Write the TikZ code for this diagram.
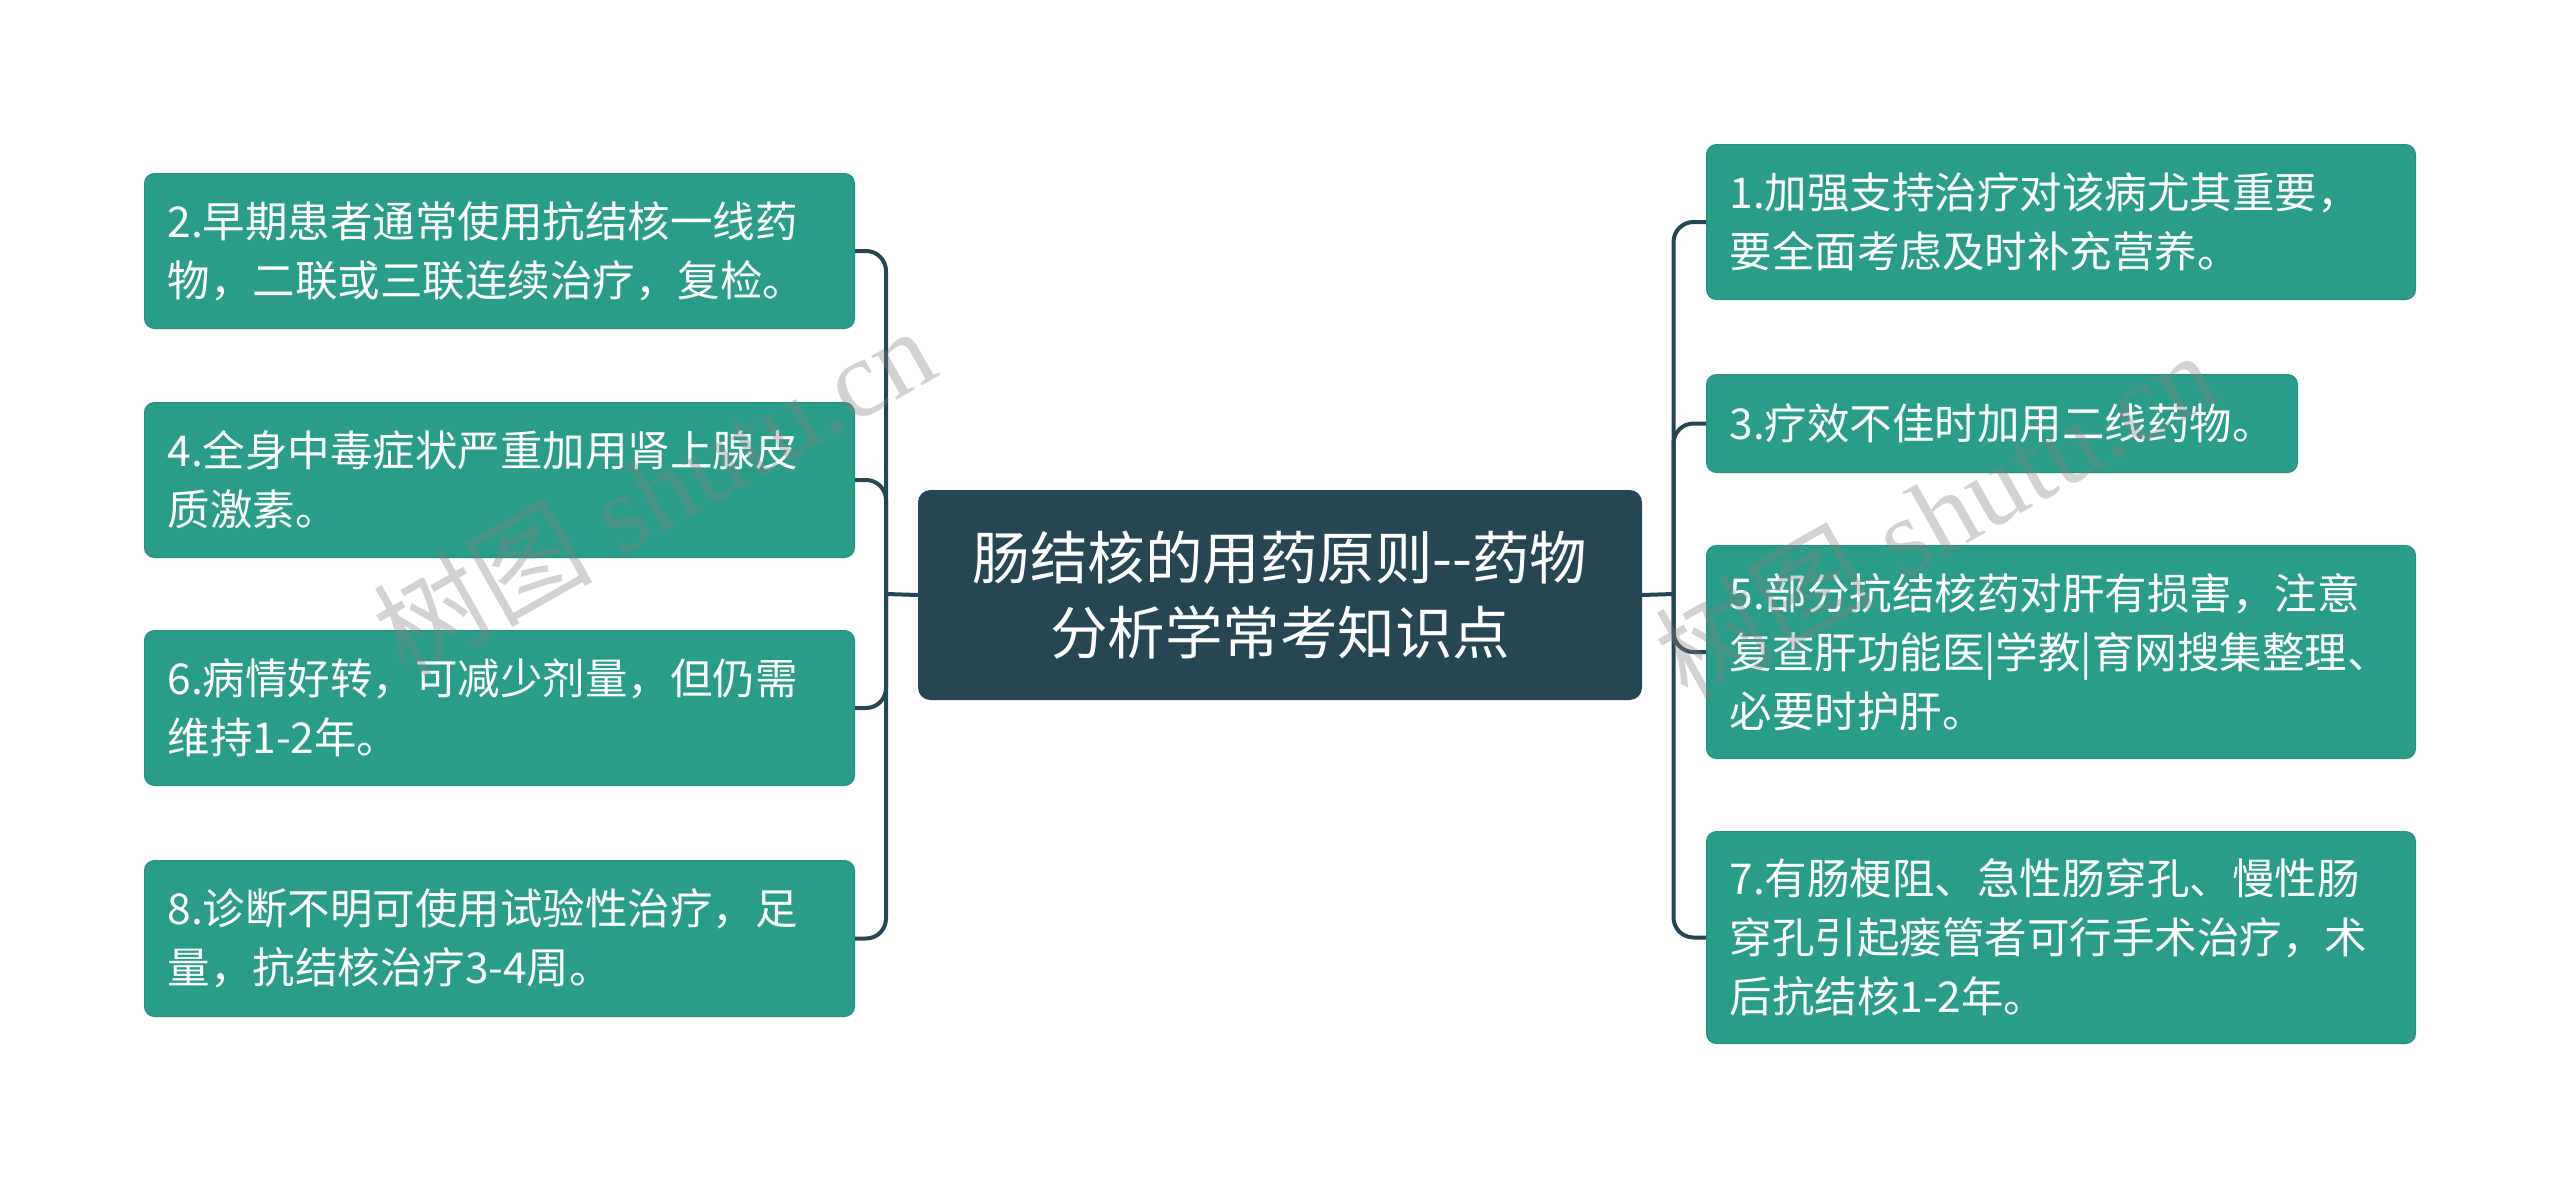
\documentclass[tikz,border=0pt]{standalone}
\usepackage{fontspec}
\setmainfont{Noto Sans CJK SC}
\newfontfamily\wmfont{Liberation Serif}
\newfontfamily\wmcjk{Noto Sans CJK SC}
\definecolor{leaffill}{HTML}{2A9D8A}
\definecolor{leafedge}{HTML}{24907E}
\definecolor{rootfill}{HTML}{264653}
\definecolor{linecol}{HTML}{264653}
\tikzset{
  leaf/.style={rounded corners=10pt, fill=leaffill, draw=leafedge, line width=1pt,
    text=white, align=left, anchor=north west, inner xsep=23pt, inner ysep=0pt,
    font=\fontsize{42.5}{59}\selectfont},
  rootbox/.style={rounded corners=12pt, fill=rootfill, draw=rootfill, line width=1pt,
    text=white, align=center, anchor=north west, inner xsep=10pt, inner ysep=0pt,
    font=\fontsize{57.5}{75}\selectfont},
  conn/.style={draw=linecol, line width=4pt, rounded corners=20pt},
  wm/.style={text=gray, opacity=0.35, rotate=29.5, font=\fontsize{110}{110}\selectfont}
}
\begin{document}
\begin{tikzpicture}[x=1pt,y=-1pt]
\useasboundingbox[fill=white] (0,0) rectangle (2560,1189);
% root
\node[rootbox, minimum width=723pt, minimum height=209pt, text width=703pt] (C) at (918,490)
  {肠结核的用药原则{-}{-}药物\\分析学常考知识点};
% left leaves
\node[leaf, minimum height=155pt, text width=664pt] (L2) at (144,173)
  {2.早期患者通常使用抗结核一线药\\物，二联或三联连续治疗，复检。};
\node[leaf, minimum height=155pt, text width=664pt] (L4) at (144,402)
  {4.全身中毒症状严重加用肾上腺皮\\质激素。};
\node[leaf, minimum height=155pt, text width=664pt] (L6) at (144,630)
  {6.病情好转，可减少剂量，但仍需\\维持1-2年。};
\node[leaf, minimum height=156pt, text width=664pt] (L8) at (144,860)
  {8.诊断不明可使用试验性治疗，足\\量，抗结核治疗3-4周。};
% right leaves
\node[leaf, minimum height=155pt, text width=663pt] (R1) at (1706,144)
  {1.加强支持治疗对该病尤其重要，\\要全面考虑及时补充营养。};
\node[leaf, minimum height=98pt, text width=545pt] (R3) at (1706,374)
  {3.疗效不佳时加用二线药物。};
\node[leaf, minimum height=213pt, text width=663pt] (R5) at (1706,545)
  {5.部分抗结核药对肝有损害，注意\\复查肝功能医|学教|育网搜集整理、\\必要时护肝。};
\node[leaf, minimum height=212pt, text width=663pt] (R7) at (1706,831)
  {7.有肠梗阻、急性肠穿孔、慢性肠\\穿孔引起瘘管者可行手术治疗，术\\后抗结核1-2年。};
% trunk points
\coordinate (lt) at (886,594);
\coordinate (rt) at (1673.5,594);
% left connectors
\draw[conn] (C.west) -- (lt);
\draw[conn] (L2.east) -- (L2.east -| lt) -- (L8.east -| lt) -- (L8.east);
\draw[conn] (L4.east) -- (L4.east -| lt) -- (lt);
\draw[conn] (L6.east) -- (L6.east -| lt) -- (lt);
% right connectors
\draw[conn] (C.east) -- (rt);
\draw[conn] (R1.west) -- (R1.west -| rt) -- (R7.west -| rt) -- (R7.west);
\draw[conn] (R3.west) -- (R3.west -| rt) -- (rt);
\draw[conn] (R5.west) -- (R5.west -| rt) -- (rt);
% watermarks
\node[wm] (W1) at (653,490) {\wmcjk 树图\wmfont{} shutu.cn};
\node[wm] (W2) at (1935,514) {\wmcjk 树图\wmfont{} shutu.cn};
\end{tikzpicture}
\end{document}
